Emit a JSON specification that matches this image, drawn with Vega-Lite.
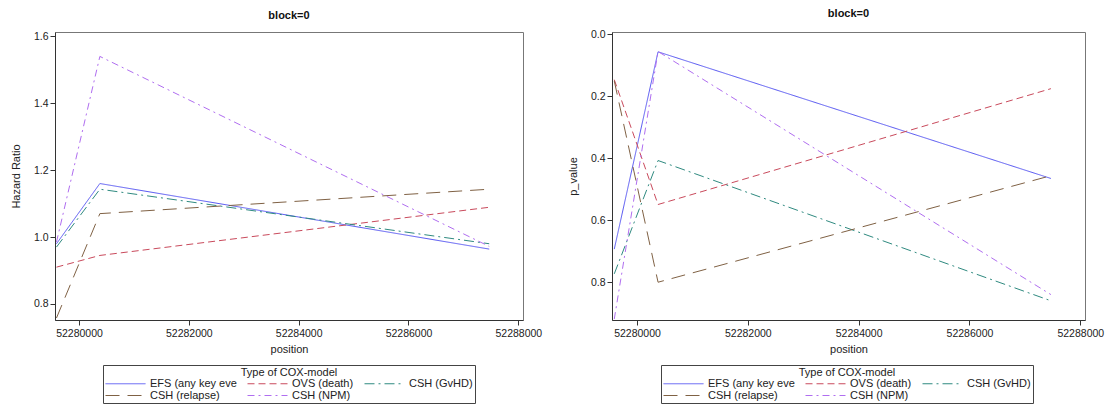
{
  "$schema": "https://vega.github.io/schema/vega-lite/v6.json",
  "padding": {"left": 9, "top": 7, "right": 5, "bottom": 0},
  "background": "white",
  "datasets": {
    "cox": [
      {"model": "EFS (any key eve", "position": 52279590, "hr": 0.98, "p": 0.693},
      {"model": "EFS (any key eve", "position": 52280380, "hr": 1.16, "p": 0.056},
      {"model": "EFS (any key eve", "position": 52287470, "hr": 0.964, "p": 0.465},
      {"model": "OVS (death)", "position": 52279590, "hr": 0.91, "p": 0.146},
      {"model": "OVS (death)", "position": 52280380, "hr": 0.945, "p": 0.549},
      {"model": "OVS (death)", "position": 52287470, "hr": 1.089, "p": 0.175},
      {"model": "CSH (GvHD)", "position": 52279590, "hr": 0.97, "p": 0.773},
      {"model": "CSH (GvHD)", "position": 52280380, "hr": 1.143, "p": 0.407},
      {"model": "CSH (GvHD)", "position": 52287470, "hr": 0.98, "p": 0.86},
      {"model": "CSH (relapse)", "position": 52279590, "hr": 0.758, "p": 0.15},
      {"model": "CSH (relapse)", "position": 52280380, "hr": 1.07, "p": 0.8},
      {"model": "CSH (relapse)", "position": 52287470, "hr": 1.143, "p": 0.456},
      {"model": "CSH (NPM)", "position": 52279590, "hr": 0.985, "p": 0.919},
      {"model": "CSH (NPM)", "position": 52280380, "hr": 1.54, "p": 0.055},
      {"model": "CSH (NPM)", "position": 52287470, "hr": 0.972, "p": 0.84}
    ]
  },
  "config": {
    "font": "Liberation Sans",
    "view": {"stroke": "#777777", "strokeWidth": 1},
    "axis": {
      "grid": false,
      "labelFont": "Liberation Sans",
      "labelFontSize": 10.5,
      "labelColor": "#222222",
      "titleFont": "Liberation Sans",
      "titleFontSize": 11,
      "titleFontWeight": "normal",
      "titleColor": "#222222",
      "domainColor": "#333333",
      "tickColor": "#333333",
      "tickSize": 5
    },
    "title": {"fontSize": 11, "fontWeight": "bold", "font": "Liberation Sans", "color": "#111111", "offset": 10},
    "legend": {
      "titleFont": "Liberation Sans",
      "titleFontSize": 11,
      "titleFontWeight": "normal",
      "titleColor": "#222222",
      "titleAnchor": "middle",
      "labelFont": "Liberation Sans",
      "labelFontSize": 11,
      "labelColor": "#222222",
      "strokeColor": "#444444",
      "padding": 2,
      "symbolType": "M-1,0H7",
      "symbolStrokeWidth": 1,
      "symbolSize": 100,
      "labelOffset": 34,
      "rowPadding": 0,
      "columnPadding": 8,
      "titlePadding": 0
    }
  },
  "spacing": 23,
  "resolve": {"scale": {"color": "independent", "strokeDash": "independent"}},
  "hconcat": [
    {
      "title": "block=0",
      "width": 468,
      "height": 288,
      "layer": [
        {
          "data": {"name": "cox"},
          "mark": {"type": "line", "strokeWidth": 1, "clip": true},
          "encoding": {
            "x": {"field": "position", "type": "quantitative", "title": "position",
              "scale": {"domain": [52279563, 52288085], "nice": false, "zero": false},
              "axis": {"values": [52280000, 52282000, 52284000, 52286000, 52288000], "format": "d", "titlePadding": 5, "labelPadding": 3}},
            "y": {"field": "hr", "type": "quantitative", "title": "Hazard Ratio",
              "scale": {"domain": [0.752, 1.613], "nice": false, "zero": false},
              "axis": {"values": [0.8, 1.0, 1.2, 1.4, 1.6], "format": ".1f", "titlePadding": 12}},
            "color": {"field": "model", "type": "nominal", "title": "Type of COX-model",
              "scale": {"domain": ["EFS (any key eve", "OVS (death)", "CSH (GvHD)", "CSH (relapse)", "CSH (NPM)"],
                "range": ["#5656f2", "#c94a5c", "#2f8a80", "#7f6144", "#b06ef0"]},
              "legend": {"orient": "none", "legendX": 48, "legendY": 333, "columns": 3, "direction": "horizontal", "symbolType": "M-1,0H7"}},
            "strokeDash": {"field": "model", "type": "nominal", "title": "Type of COX-model",
              "scale": {"domain": ["EFS (any key eve", "OVS (death)", "CSH (GvHD)", "CSH (relapse)", "CSH (NPM)"],
                "range": [[1, 0], [7, 4], [10, 4, 2, 4], [14, 8], [7, 4, 2, 4]]},
              "legend": {"orient": "none", "legendX": 48, "legendY": 333, "columns": 3, "direction": "horizontal", "symbolType": "M-1,0H7"}}
          }
        },
        {
          "mark": {"type": "rule", "color": "#ff0000", "strokeWidth": 1},
          "encoding": {"y": {"datum": 1.0}}
        }
      ]
    },
    {
      "title": "block=0",
      "width": 473,
      "height": 288,
      "layer": [
        {
          "data": {"name": "cox"},
          "mark": {"type": "line", "strokeWidth": 1, "clip": true},
          "encoding": {
            "x": {"field": "position", "type": "quantitative", "title": "position",
              "scale": {"domain": [52279549, 52288085], "nice": false, "zero": false},
              "axis": {"values": [52280000, 52282000, 52284000, 52286000, 52288000], "format": "d", "titlePadding": 5, "labelPadding": 3}},
            "y": {"field": "p", "type": "quantitative", "title": "p_value",
              "scale": {"domain": [-0.008, 0.922], "nice": false, "zero": false, "reverse": true},
              "axis": {"values": [0.0, 0.2, 0.4, 0.6, 0.8], "format": ".1f", "titlePadding": 12}},
            "color": {"field": "model", "type": "nominal", "title": "Type of COX-model",
              "scale": {"domain": ["EFS (any key eve", "OVS (death)", "CSH (GvHD)", "CSH (relapse)", "CSH (NPM)"],
                "range": ["#5656f2", "#c94a5c", "#2f8a80", "#7f6144", "#b06ef0"]},
              "legend": {"orient": "none", "legendX": 49, "legendY": 333, "columns": 3, "direction": "horizontal", "symbolType": "M-1,0H7"}},
            "strokeDash": {"field": "model", "type": "nominal", "title": "Type of COX-model",
              "scale": {"domain": ["EFS (any key eve", "OVS (death)", "CSH (GvHD)", "CSH (relapse)", "CSH (NPM)"],
                "range": [[1, 0], [7, 4], [10, 4, 2, 4], [14, 8], [7, 4, 2, 4]]},
              "legend": {"orient": "none", "legendX": 49, "legendY": 333, "columns": 3, "direction": "horizontal", "symbolType": "M-1,0H7"}}
          }
        },
        {
          "mark": {"type": "rule", "color": "#ff0000", "strokeWidth": 1},
          "encoding": {"y": {"datum": 0.05}}
        }
      ]
    }
  ]
}
